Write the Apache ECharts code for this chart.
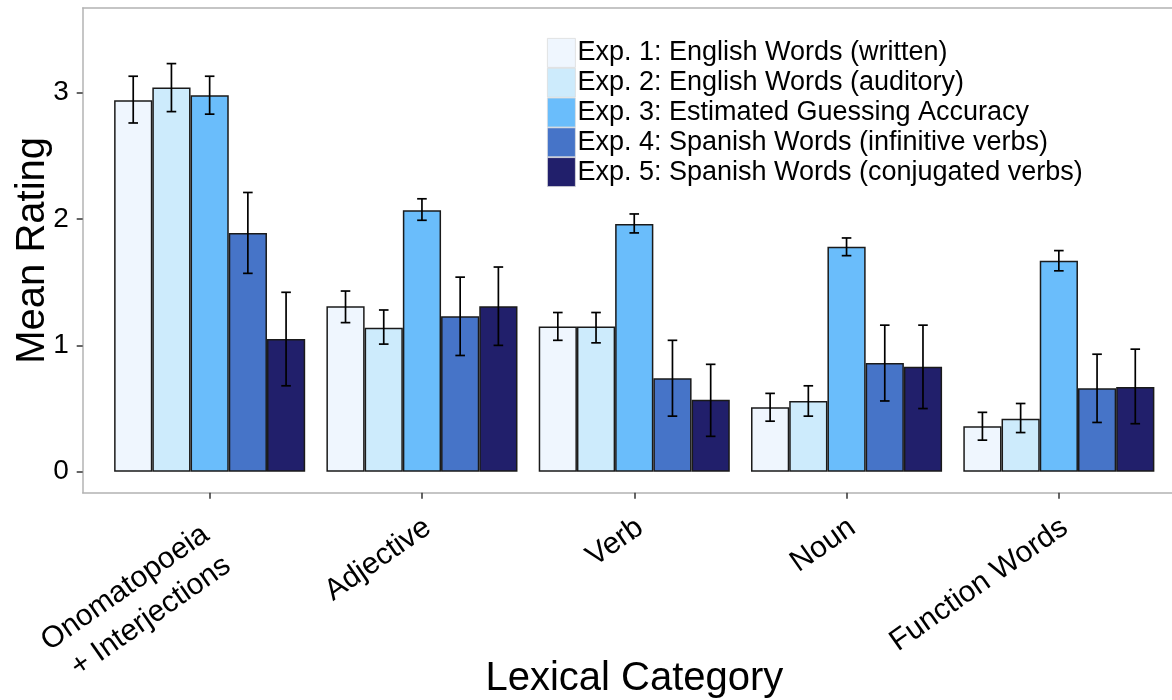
<!DOCTYPE html>
<html>
<head>
<meta charset="utf-8">
<script src="https://cdn.jsdelivr.net/npm/echarts@6/dist/echarts.min.js"></script>
<style>html,body{margin:0;padding:0;background:#fff}#chart{width:1172px;height:700px}</style>
</head>
<body>
<div id="chart"></div>
<script>
const categories = ['Onomatopoeia\n+ Interjections', 'Adjective', 'Verb', 'Noun', 'Function Words'];
const seriesNames = [
  'Exp. 1: English Words (written)',
  'Exp. 2: English Words (auditory)',
  'Exp. 3: Estimated Guessing Accuracy',
  'Exp. 4: Spanish Words (infinitive verbs)',
  'Exp. 5: Spanish Words (conjugated verbs)'
];
const exp1 = [2.94, 1.31, 1.15, 0.51, 0.36];
const exp1Lo = [2.76, 1.18, 1.04, 0.40, 0.25];
const exp1Hi = [3.13, 1.43, 1.26, 0.62, 0.47];
const exp2 = [3.04, 1.14, 1.15, 0.56, 0.42];
const exp2Lo = [2.85, 1.01, 1.02, 0.44, 0.31];
const exp2Hi = [3.23, 1.28, 1.26, 0.68, 0.54];
const exp3 = [2.98, 2.07, 1.96, 1.78, 1.67];
const exp3Lo = [2.83, 1.99, 1.89, 1.71, 1.59];
const exp3Hi = [3.13, 2.16, 2.04, 1.85, 1.75];
const exp4 = [1.89, 1.23, 0.74, 0.86, 0.66];
const exp4Lo = [1.57, 0.92, 0.44, 0.56, 0.39];
const exp4Hi = [2.21, 1.54, 1.04, 1.16, 0.93];
const exp5 = [1.05, 1.31, 0.57, 0.83, 0.67];
const exp5Lo = [0.68, 1.00, 0.28, 0.50, 0.38];
const exp5Hi = [1.42, 1.62, 0.85, 1.16, 0.97];
const yTicks = [0, 1, 2, 3];

const colors = ['#EFF6FE', '#CDEBFC', '#6ABDFB', '#4674C8', '#211F6B'];
const means = [exp1, exp2, exp3, exp4, exp5];
const lows = [exp1Lo, exp2Lo, exp3Lo, exp4Lo, exp5Lo];
const highs = [exp1Hi, exp2Hi, exp3Hi, exp4Hi, exp5Hi];

const FONT = '"Liberation Sans", Arial, Helvetica, sans-serif';
const YMIN = -0.166, YMAX = 3.67;
const FRAME = {show: true, onZero: false, lineStyle: {color: '#b3b3b3', width: 1.5}};

const chart = echarts.init(document.getElementById('chart'), null, {renderer: 'canvas'});

const series = [];
means.forEach((m, k) => {
  series.push({
    name: seriesNames[k],
    type: 'bar',
    xAxisIndex: 1, yAxisIndex: 1,
    data: m,
    barGap: '0%',
    barCategoryGap: '10%',
    itemStyle: {color: colors[k], borderColor: '#1a1a1a', borderWidth: 1.5},
    z: 2
  });
});
means.forEach((m, k) => {
  series.push({
    name: 'err' + (k + 1),
    type: 'custom',
    xAxisIndex: 1, yAxisIndex: 1,
    data: categories.map((c, i) => [i, lows[k][i], highs[k][i]]),
    encode: {x: 0, y: [1, 2]},
    z: 5,
    renderItem: function (params, api) {
      const idx = api.value(0);
      const band = api.size([1, 0])[0];
      const cx = api.coord([idx, 0])[0] + (-0.36 + 0.18 * k) * band;
      const yLo = api.coord([idx, api.value(1)])[1];
      const yHi = api.coord([idx, api.value(2)])[1];
      const hw = 4.8;
      const st = {stroke: '#000', lineWidth: 1.7};
      return {
        type: 'group',
        children: [
          {type: 'line', shape: {x1: cx, y1: yLo, x2: cx, y2: yHi}, style: st},
          {type: 'line', shape: {x1: cx - hw, y1: yLo, x2: cx + hw, y2: yLo}, style: st},
          {type: 'line', shape: {x1: cx - hw, y1: yHi, x2: cx + hw, y2: yHi}, style: st}
        ]
      };
    }
  });
});

const labelStyle = {fontSize: 30, color: '#000', fontFamily: FONT, lineHeight: 38, verticalAlign: 'top', align: 'right'};
const axisCategories = categories.map((c) => c.indexOf('\n') >= 0
  ? {value: c, textStyle: Object.assign({}, labelStyle, {padding: [0, 18, 0, 0]})}
  : c);

const option = {
  animation: false,
  backgroundColor: '#fff',
  textStyle: {fontFamily: FONT},
  grid: [
    {left: 82.7, top: 8, width: 1103.3, bottom: 207.3, outerBoundsMode: 'none', containLabel: false, show: false},
    {left: 103.5, top: 8, width: 1061.5, bottom: 207.3, outerBoundsMode: 'none', containLabel: false}
  ],
  legend: {
    data: seriesNames,
    orient: 'vertical',
    left: 542, top: 33,
    itemWidth: 28, itemHeight: 29, itemGap: 0,
    icon: 'rect',
    itemStyle: {borderColor: '#dcdcdc', borderWidth: 0.8},
    textStyle: {fontSize: 27, color: '#000', fontFamily: FONT, padding: [0, 0, 0, -3]},
    selectedMode: false
  },
  xAxis: [
    {
      type: 'value', gridIndex: 0, min: 0, max: 1, position: 'bottom',
      axisLine: FRAME, axisTick: {show: false}, axisLabel: {show: false}, splitLine: {show: false},
      name: 'Lexical Category', nameLocation: 'middle', nameGap: 166,
      nameTextStyle: {fontSize: 40, color: '#000', fontFamily: FONT}
    },
    {
      type: 'category', gridIndex: 1, data: axisCategories, position: 'bottom',
      axisLine: {show: false, onZero: false},
      axisTick: {show: true, alignWithLabel: true, length: 6, lineStyle: {color: '#333', width: 1.5}},
      axisLabel: Object.assign({rotate: 35, margin: 13, interval: 0, padding: [0, 6, 0, 0]}, labelStyle),
      splitLine: {show: false}
    },
    {
      type: 'value', gridIndex: 0, min: 0, max: 1, position: 'top',
      axisLine: FRAME, axisTick: {show: false}, axisLabel: {show: false}, splitLine: {show: false}
    }
  ],
  yAxis: [
    {
      type: 'value', gridIndex: 0, min: YMIN, max: YMAX,
      axisLine: FRAME,
      axisTick: {show: true, length: 6, customValues: yTicks, lineStyle: {color: '#333', width: 1.5}},
      axisLabel: {fontSize: 28, color: '#000', fontFamily: FONT, margin: 14, customValues: yTicks},
      splitLine: {show: false},
      name: 'Mean Rating', nameLocation: 'middle', nameGap: 30, nameMoveOverlap: false,
      nameTextStyle: {fontSize: 40, color: '#000', fontFamily: FONT}
    },
    {
      type: 'value', gridIndex: 1, min: YMIN, max: YMAX,
      show: false, splitLine: {show: false}
    }
  ],
  series: series
};
chart.setOption(option);
</script>
</body>
</html>
